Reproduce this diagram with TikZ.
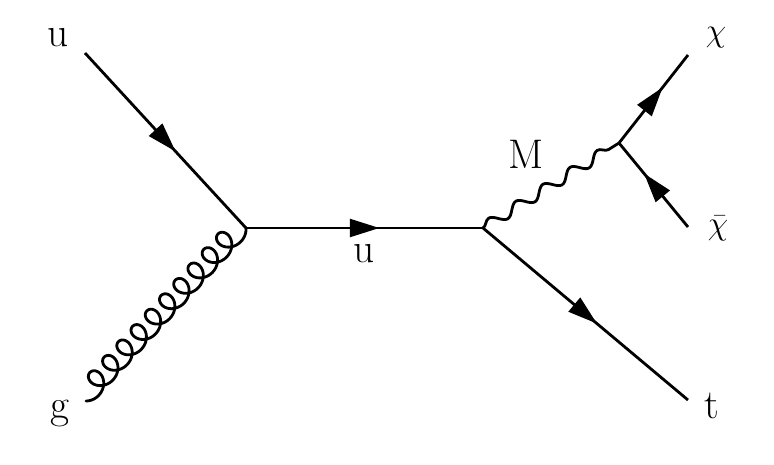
\documentclass[tikz,border=0pt]{standalone}
\usepackage{fontspec}
\setmainfont{Latin Modern Roman}
\usetikzlibrary{decorations.pathmorphing,decorations.markings}
\begin{document}
\begin{tikzpicture}[x=0.75pt,y=-0.75pt,
  lbl/.style={inner sep=0pt,font=\fontsize{31}{34}\selectfont},
  fermion/.style={line width=2.1pt,
    postaction={decorate},
    decoration={markings,mark=at position 0.5 with {\fill (-11pt,-7pt) -- (11pt,0pt) -- (-11pt,7pt) -- cycle;}}},
  photon/.style={line width=2.1pt,decorate,
    decoration={snake,amplitude=4pt,segment length=24pt}},
  gluonline/.style={line width=2.1pt,line join=round,line cap=round}]
\useasboundingbox (0,0) rectangle (774,464);
\coordinate (a) at (85,53);
\coordinate (b) at (86,401);
\coordinate (v1) at (246,228);
\coordinate (v2) at (483,228);
\coordinate (v3) at (619,143);
\coordinate (c) at (688,55);
\coordinate (d) at (688,227);
\coordinate (e) at (688,400);
\draw[fermion] (a) -- (v1);
\begin{scope}[shift={(b)},x=0.75pt,y=0.75pt,rotate=47.24]
\draw[gluonline] plot[smooth,domain=-60:3660,samples=721]
  ({3.336*rad(\x)+11*sin(\x)+13.02},{11*(0.5-cos(\x))});
\end{scope}
\draw[fermion] (v1) -- (v2);
\draw[photon] (v2) -- (v3);
\draw[fermion] (v3) -- (c);
\draw[fermion] (d) -- (v3);
\draw[fermion] (v2) -- (e);
\node[lbl] (lu) at (58,38) {u};
\node[lbl] (lg) at (60,413) {g};
\node[lbl] (lu2) at (364,254) {u};
\node[lbl] (lm) at (526,154) {M};
\node[lbl] (lchi) at (716,38) {$\chi$};
\node[lbl] (lchib) at (718,228) {$\bar\chi$};
\node[lbl] (lt) at (712,406) {t};
\end{tikzpicture}
\end{document}
